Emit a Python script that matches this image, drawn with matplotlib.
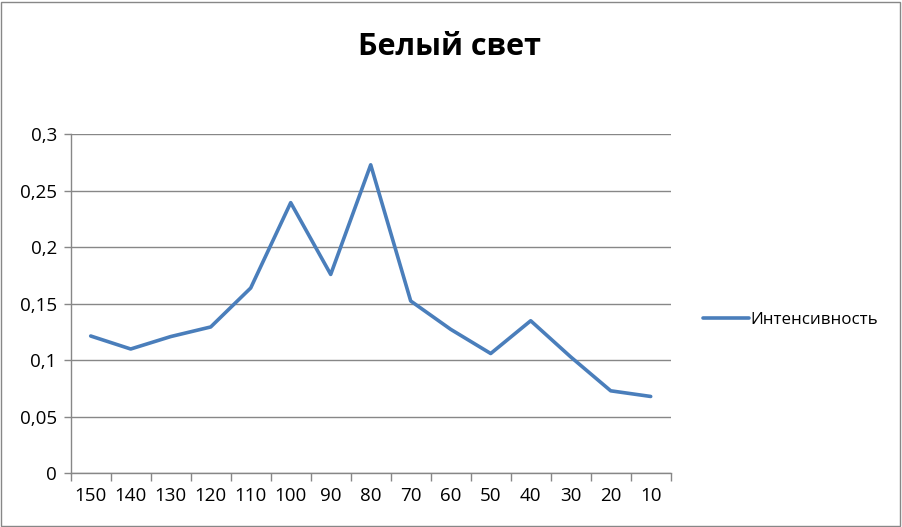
import matplotlib.pyplot as plt
from matplotlib.patches import Rectangle

# data
wavelengths = ['150', '140', '130', '120', '110', '100', '90', '80',
               '70', '60', '50', '40', '30', '20', '10']
intensity = [0.1215, 0.110, 0.121, 0.1295, 0.164, 0.2395, 0.176, 0.273,
             0.1525, 0.1274, 0.106, 0.135, 0.103, 0.073, 0.068]
yticks = [0, 0.05, 0.1, 0.15, 0.2, 0.25, 0.3]
ytick_labels = ['0', '0,05', '0,1', '0,15', '0,2', '0,25', '0,3']

plt.rcParams['font.family'] = ['Open Sans', 'DejaVu Sans']

fig = plt.figure(figsize=(9.02, 5.27), dpi=100)
ax = fig.add_axes([70.7 / 902, (527 - 473.3) / 527, 600 / 902, 339 / 527])

x = list(range(len(wavelengths)))
ax.plot(x, intensity, color='#4A7EBB', linewidth=2.6, solid_joinstyle='round',
        solid_capstyle='round', label='Интенсивность')

ax.set_xlim(-0.5, len(wavelengths) - 0.5)
ax.set_ylim(0, 0.3)

# y axis
ax.set_yticks(yticks)
ax.set_yticklabels(ytick_labels, fontsize=13.5)
ax.tick_params(axis='y', length=5, color='#878787', width=1, pad=5)
ax.yaxis.grid(True, color='#878787', linewidth=1)

# x axis: tick marks between categories, labels at centers
ax.set_xticks([i - 0.5 for i in range(len(wavelengths) + 1)])
ax.set_xticklabels([])
ax.set_xticks(x, minor=True)
ax.set_xticklabels(wavelengths, minor=True, fontsize=13.5)
ax.tick_params(axis='x', which='major', length=6, color='#878787', width=1)
ax.tick_params(axis='x', which='minor', length=0, pad=10)

ax.set_axisbelow(True)
for s in ['top', 'right']:
    ax.spines[s].set_visible(False)
for s in ['left', 'bottom']:
    ax.spines[s].set_color('#878787')
    ax.spines[s].set_linewidth(1)

fig.text(450 / 902, 1 - 47 / 527, 'Белый свет', ha='center', va='center',
         fontsize=22, fontweight='bold')

fig.legend(loc='center left', bbox_to_anchor=(688 / 902, 1 - 320 / 527),
           frameon=False, fontsize=12.2, handlelength=2.7, handletextpad=0.1)

# outer chart border
fig.patches.append(Rectangle((1 / 902, 1 / 527), 899 / 902, 524 / 527,
                             transform=fig.transFigure, fill=False,
                             edgecolor='#878787', linewidth=1))

fig.savefig('out.png', dpi=100)
